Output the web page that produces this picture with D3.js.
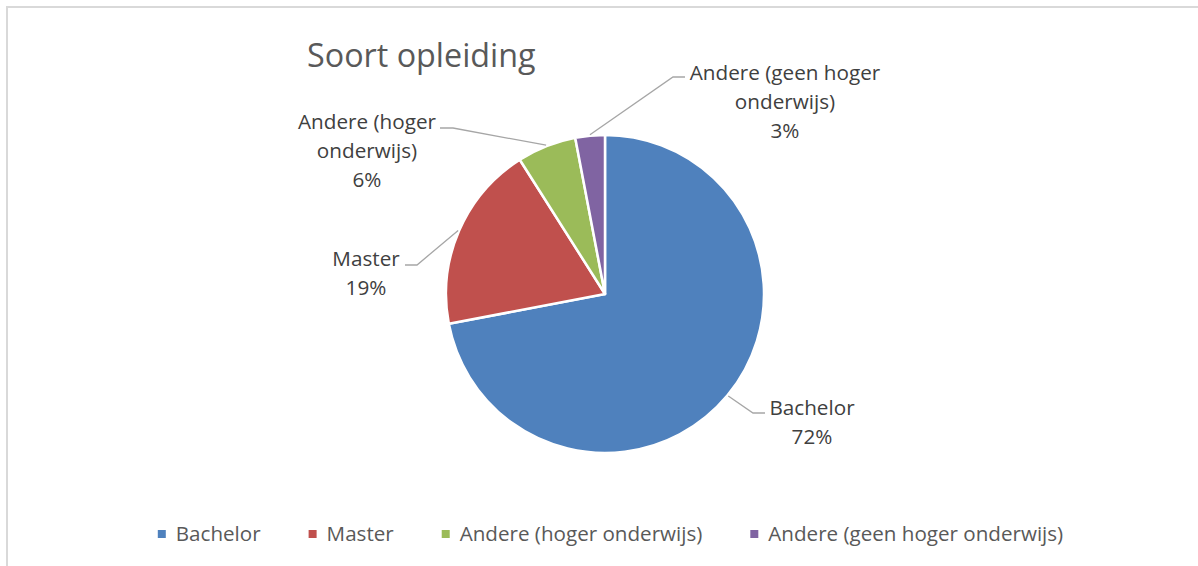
<!DOCTYPE html>
<html><head><meta charset="utf-8">
<script src="https://cdn.jsdelivr.net/npm/d3@7"></script>
<style>
html,body{margin:0;padding:0;background:#fff;}
svg{display:block;}
text{font-family:"Open Sans",sans-serif;}
</style></head>
<body>
<svg id="chart" width="1198" height="566"></svg>
<script>
// ---- data ----
const categories = ["Bachelor", "Master", "Andere (hoger onderwijs)", "Andere (geen hoger onderwijs)"];
const values = [72, 19, 6, 3];
const labelLines = [["Bachelor"], ["Master"], ["Andere (hoger", "onderwijs)"], ["Andere (geen hoger", "onderwijs)"]];
const colors = ["#4f81bd", "#c0504d", "#9bbb59", "#8064a2"];
const title = "Soort opleiding";

// ---- layout ----
const W = 1198, H = 566;
const cx = 605, cy = 294, R = 159;
// label block center [x, first-line baseline], leader elbow and end
const labelLayout = [
  {x: 812, y: 415, elbow: [753, 413], end: [765, 413]},
  {x: 366, y: 266, elbow: [417, 265], end: [405, 265]},
  {x: 367, y: 129, elbow: [453, 128], end: [440, 128]},
  {x: 785, y: 80,  elbow: [673, 77],  end: [685, 77]}
];
const lineH = 29;
const labelFont = 20.7, legendFont = 20.6;

const svg = d3.select("#chart");
svg.append("rect").attr("x", 7).attr("y", 7).attr("width", W + 10).attr("height", H + 10)
  .attr("fill", "#fff").attr("stroke", "#d9d9d9").attr("stroke-width", 2);

svg.append("text").attr("x", 307).attr("y", 67).attr("font-size", 32.3).attr("fill", "#595959")
  .text(title);

const data = categories.map((c, i) => ({cat: c, value: values[i], i}));
const pie = d3.pie().value(d => d.value).sort(null);
const arcs = pie(data);
const arc = d3.arc().innerRadius(0).outerRadius(R);

const g = svg.append("g").attr("transform", `translate(${cx},${cy})`);
g.selectAll("path.slice").data(arcs).join("path")
  .attr("class", "slice")
  .attr("d", arc)
  .attr("fill", d => colors[d.data.i])
  .attr("stroke", "#fff").attr("stroke-width", 2.5).attr("stroke-linejoin", "round");

// leader lines
arcs.forEach(a => {
  const mid = (a.startAngle + a.endAngle) / 2;
  const sx = cx + (R + 1) * Math.sin(mid), sy = cy - (R + 1) * Math.cos(mid);
  const L = labelLayout[a.data.i];
  svg.append("polyline")
    .attr("points", [[sx, sy], L.elbow, L.end].map(p => p.join(",")).join(" "))
    .attr("fill", "none").attr("stroke", "#a6a6a6").attr("stroke-width", 1.3);
});

// data labels
const total = d3.sum(values);
arcs.forEach(a => {
  const L = labelLayout[a.data.i];
  const lines = labelLines[a.data.i].concat([Math.round(a.data.value / total * 100) + "%"]);
  const t = svg.append("text").attr("text-anchor", "middle").attr("font-size", labelFont).attr("fill", "#404040");
  lines.forEach((ln, k) => {
    t.append("tspan").attr("x", L.x).attr("y", L.y + k * lineH).text(ln);
  });
});

// legend
const leg = svg.append("g");
const gapSq = 10, gapItem = 48, sq = 8;
let x = 0;
categories.forEach((c, i) => {
  const it = leg.append("g");
  it.append("rect").attr("x", x).attr("y", 530).attr("width", sq).attr("height", sq).attr("fill", colors[i]);
  const t = it.append("text").attr("x", x + sq + gapSq).attr("y", 541).attr("font-size", legendFont).attr("fill", "#595959").text(c);
  const w = t.node().getComputedTextLength();
  x += sq + gapSq + w + gapItem;
});
const totalW = x - gapItem;
leg.attr("transform", `translate(${610.5 - totalW / 2},0)`);
</script>
</body></html>
